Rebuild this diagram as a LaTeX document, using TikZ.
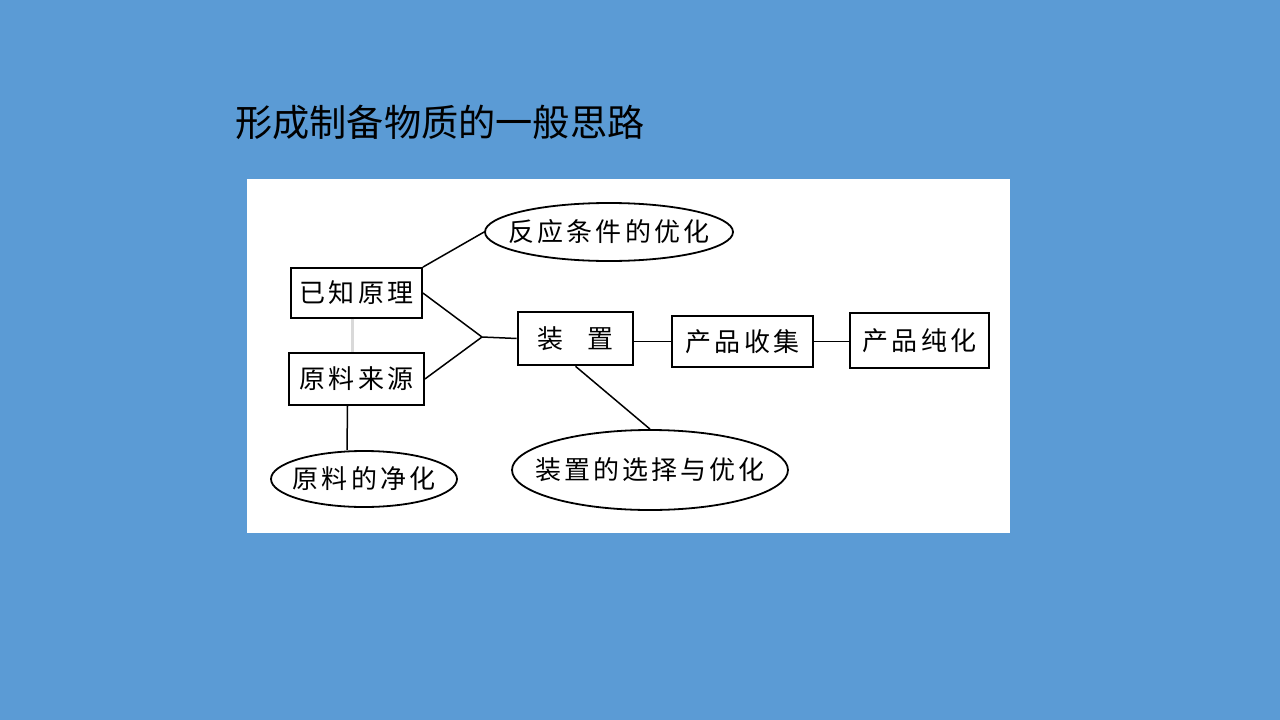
\documentclass[tikz,border=0pt]{standalone}
\usepackage{fontspec}
\setmainfont{Noto Sans CJK SC}
\newfontfamily\cjk{Noto Sans CJK SC}
\newfontfamily\cjksp[LetterSpace=12]{Noto Sans CJK SC}
\usetikzlibrary{shapes.geometric}
\definecolor{bgblue}{HTML}{5B9BD5}
\newcommand{\ovaltext}[1]{\makebox[0pt][c]{#1}}
\tikzset{
  box/.style={draw=black, line width=1.8pt, fill=white, inner sep=0pt, font=\cjksp\fontsize{26}{26}\selectfont},
  oval/.style={draw=black, line width=1.8pt, ellipse, inner sep=0pt, font=\cjksp\fontsize{26}{26}\selectfont},
  conn/.style={draw=black, line width=1.5pt},
}
\begin{document}
\begin{tikzpicture}[x=1pt,y=-1pt]
\fill[bgblue] (0,0) rectangle (1280,720);
\useasboundingbox (0,0) rectangle (1280,720);
\fill[white] (247,179) rectangle (1010,533);
\node[anchor=west, font=\cjk\fontsize{37.2}{37.2}\selectfont, inner sep=0pt] (title) at (235,122) {形成制备物质的一般思路};

\node[box, minimum width=131pt, minimum height=50pt] (yz) at (356.5,293) {已知原理};
\node[box, minimum width=135pt, minimum height=52pt] (yl) at (356.5,379) {原料来源};
\node[box, line width=2.6pt, minimum width=115pt, minimum height=53pt] (zz) at (575.5,338.5) {装\hspace{0.9em}置};
\node[box, minimum width=141pt, minimum height=51pt] (cs) at (742.5,341.5) {产品收集};
\node[box, line width=2.2pt, minimum width=139pt, minimum height=55pt] (cc) at (919.5,340.5) {产品纯化};

\node[oval, minimum width=248pt, minimum height=58pt] (e1) at (609,232) {\ovaltext{反应条件的优化}};
\node[oval, minimum width=186pt, minimum height=56pt] (e2) at (364,479) {\ovaltext{原料的净化}};
\node[oval, minimum width=276pt, minimum height=80pt] (e3) at (650,470) {\ovaltext{装置的选择与优化}};

\coordinate (j) at (482,337);
\draw[conn] (yz.north east) -- (e1.west);
\draw[conn] (yz.east) -- (j);
\draw[conn] (yl.east) -- (j);
\draw[conn] (j) -- (zz.west);
\draw[conn] (zz.east |- cs.west) -- (cs.west);
\draw[conn] (cs.east) -- (cs.east -| cc.west);
\draw[conn] (zz.south) -- (e3.north);
\draw[draw=black!15, line width=3pt] ([xshift=-4pt]yz.south) -- ([xshift=-4pt]yl.north);
\draw[conn] ([xshift=-9pt]yl.south) -- ([xshift=-17pt]e2.north);
\end{tikzpicture}
\end{document}
